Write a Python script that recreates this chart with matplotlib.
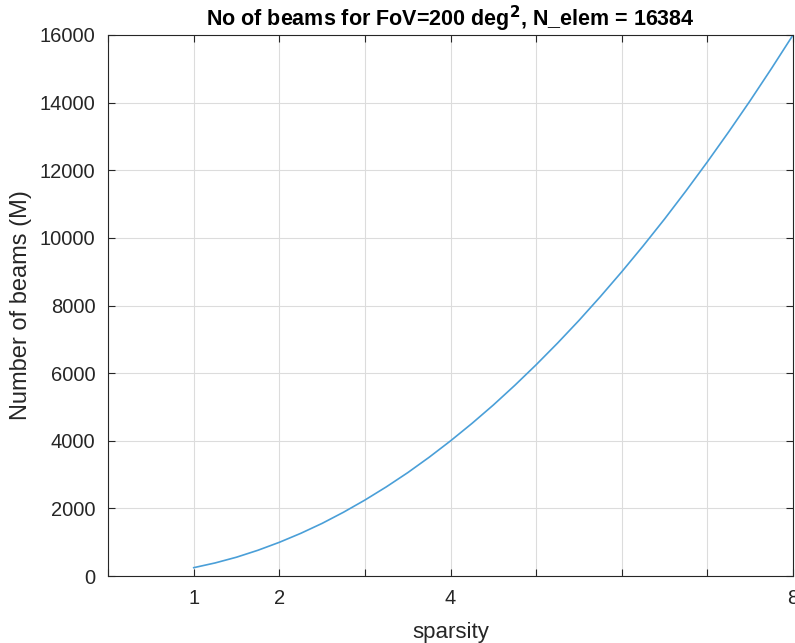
import matplotlib.pyplot as plt

# values
sparsity = [1, 1.25, 1.5, 1.75, 2, 2.25, 2.5, 2.75, 3, 3.25, 3.5, 3.75, 4,
            4.25, 4.5, 4.75, 5, 5.25, 5.5, 5.75, 6, 6.25, 6.5, 6.75, 7,
            7.25, 7.5, 7.75, 8]
n_beams = [250, 390, 560, 765, 1000, 1265, 1560, 1890, 2250, 2640, 3060, 3515, 4000,
           4515, 5060, 5640, 6250, 6890, 7560, 8265, 9000, 9765, 10560, 11390, 12250,
           13140, 14060, 15015, 16000]

x_ticks = [0, 1, 2, 3, 4, 5, 6, 7, 8]
x_labels = ['', '1', '2', '', '4', '', '', '', '8']
y_ticks = [0, 2000, 4000, 6000, 8000, 10000, 12000, 14000, 16000]

plt.rcParams['font.family'] = ['Liberation Sans', 'DejaVu Sans']

fig = plt.figure(figsize=(7.95, 6.43), dpi=100)
ax = fig.add_axes([0.136, 0.104, 0.8615, 0.8416])

ax.plot(sparsity, n_beams, color='#4a9fd8', linewidth=1.2)

ax.set_xlim(0, 8)
ax.set_ylim(0, 16000)
ax.set_xticks(x_ticks)
ax.set_xticklabels(x_labels)
ax.set_yticks(y_ticks)

edge = '#262626'
for s in ax.spines.values():
    s.set_color(edge)
    s.set_linewidth(0.8)
ax.tick_params(direction='in', top=True, right=True, length=5, width=0.8,
               colors=edge, labelsize=14.5, pad=9)
ax.grid(True, color='#dcdcdc', linewidth=0.8)

ax.set_xlabel('sparsity', fontsize=16, color=edge, labelpad=10)
ax.set_ylabel('Number of beams (M)', fontsize=17, color=edge, labelpad=6)
ax.set_title(r'No of beams for FoV=200 deg$^\mathbf{2}$, N_elem = 16384',
             fontsize=15.5, fontweight='bold', pad=6)

fig.savefig('out.png', dpi=100)
